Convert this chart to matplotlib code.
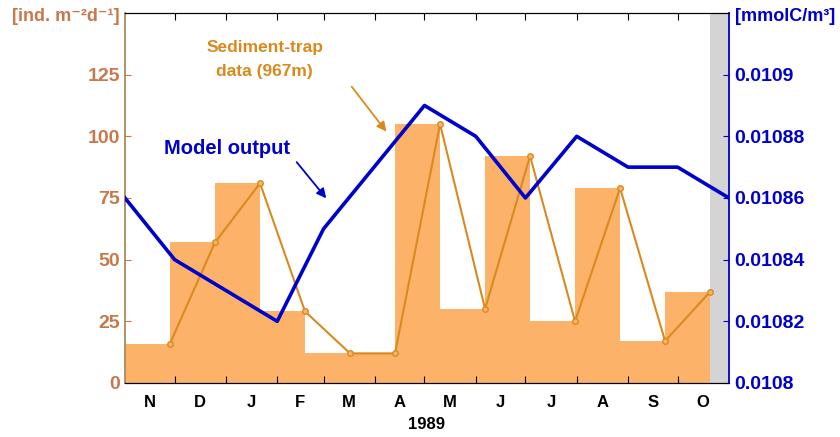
import matplotlib
matplotlib.use("Agg")
import matplotlib.pyplot as plt

# ── Data ──────────────────────────────────────────────────────────────────────
# x axis: days since 1 Nov 1988
month_labels = ["N", "D", "J", "F", "M", "A", "M", "J", "J", "A", "S", "O"]
month_edges = [0, 30, 61, 92, 120, 151, 181, 212, 242, 273, 304, 334, 365]

# sediment-trap samples (start day of each collection cup, flux)
trap_start = [0, 27.2, 54.4, 81.6, 108.8, 136, 163.2, 190.4, 217.6, 244.8, 272, 299.2, 326.4]
trap_width = 27.2
trap_flux = [16, 57, 81, 29, 12, 12, 105, 30, 92, 25, 79, 17, 37]

# model output (mmolC/m3)
model_day = [0, 30, 92, 120, 181, 212, 242, 273, 304, 334, 365]
model_val = [0.01086, 0.01084, 0.01082, 0.01085, 0.01089, 0.01088,
             0.01086, 0.01088, 0.01087, 0.01087, 0.01086]

no_data_from = 353.6

# ── Colours ──────────────────────────────────────────────────────────────────
BAR_COLOR = "#FDB26A"
LINE_ORANGE = "#D98A1F"
TEXT_ORANGE = "#C8784A"
BLUE = "#0000CC"
GREY = "#D4D4D4"

plt.rcParams["font.family"] = ["Liberation Sans", "DejaVu Sans"]
plt.rcParams["font.weight"] = "bold"

fig = plt.figure(figsize=(8.4, 4.37), dpi=100)
ax = fig.add_axes([0.1488, 0.1236, 0.7190, 0.8467])

ax.bar(trap_start, trap_flux, width=trap_width, align="edge",
       color=BAR_COLOR, linewidth=0, zorder=1)
ax.axvspan(no_data_from, month_edges[-1], color=GREY, linewidth=0, zorder=0)

trap_end = [s + trap_width for s in trap_start]
ax.plot(trap_end, trap_flux, color=LINE_ORANGE, linewidth=1.5, marker="o",
        markersize=4, markerfacecolor=BAR_COLOR, markeredgecolor=LINE_ORANGE,
        markeredgewidth=1.0, zorder=3)

ax.set_xlim(month_edges[0], month_edges[-1])
ax.set_ylim(0, 150)
ax.set_yticks([0, 25, 50, 75, 100, 125])
ax.tick_params(axis="y", direction="in", colors=TEXT_ORANGE, labelsize=14,
               length=4)
ax.set_xticks(month_edges[1:-1])
ax.set_xticklabels([])
centers = [(a + b) / 2 for a, b in zip(month_edges[:-1], month_edges[1:])]
ax.set_xticks(centers, minor=True)
ax.set_xticklabels(month_labels, minor=True, fontsize=12, fontweight="bold")
ax.tick_params(axis="x", which="minor", length=0, pad=9)
ax.tick_params(axis="x", which="major", direction="in", length=5,
               top=True, colors="black")
ax.spines["left"].set_color("#A88A5C")
ax.spines["left"].set_linewidth(1.3)
ax.spines["right"].set_visible(False)
for lbl in ax.get_yticklabels():
    lbl.set_fontweight("bold")

ax.set_xlabel("1989", fontsize=12, fontweight="bold", labelpad=5)

# ── Right axis: model output ─────────────────────────────────────────────────
ax2 = ax.twinx()
ax2.plot(model_day, model_val, color=BLUE, linewidth=2.6, zorder=4)
ax2.set_ylim(0.0108, 0.01092)
ax2.set_yticks([0.0108, 0.01082, 0.01084, 0.01086, 0.01088, 0.0109])
ax2.set_yticklabels(["0.0108", "0.01082", "0.01084", "0.01086", "0.01088", "0.0109"])
ax2.tick_params(axis="y", direction="in", colors=BLUE, labelsize=14, length=4,
                pad=4)
for lbl in ax2.get_yticklabels():
    lbl.set_fontweight("bold")
ax2.spines["right"].set_color(BLUE)
ax2.spines["right"].set_linewidth(1.3)
ax2.spines["left"].set_visible(False)

# ── Unit labels ──────────────────────────────────────────────────────────────
fig.text(0.078, 0.962, "[ind. m⁻²d⁻¹]", color=TEXT_ORANGE, fontsize=13,
         fontweight="bold", ha="center", va="center")
fig.text(0.875, 0.962, "[mmolC/m³]", color=BLUE, fontsize=13,
         fontweight="bold", ha="left", va="center")

# ── Annotations ──────────────────────────────────────────────────────────────
ax.annotate("", xy=(159, 101), xytext=(136, 121),
            arrowprops=dict(arrowstyle="-|>", color=LINE_ORANGE, lw=1.3,
                            mutation_scale=14), zorder=5)
ax.text(84.5, 131, "Sediment-trap\ndata (967m)", color=LINE_ORANGE,
        fontsize=12.5, fontweight="bold", ha="center", va="center",
        linespacing=1.75, zorder=5)
ax.annotate("", xy=(122.7, 74), xytext=(102.7, 90.4),
            arrowprops=dict(arrowstyle="-|>", color=BLUE, lw=1.3,
                            mutation_scale=14), zorder=5)
ax.text(61.6, 95, "Model output", color=BLUE, fontsize=14.5,
        fontweight="bold", ha="center", va="center", zorder=5)

fig.savefig("out.png", dpi=100)
